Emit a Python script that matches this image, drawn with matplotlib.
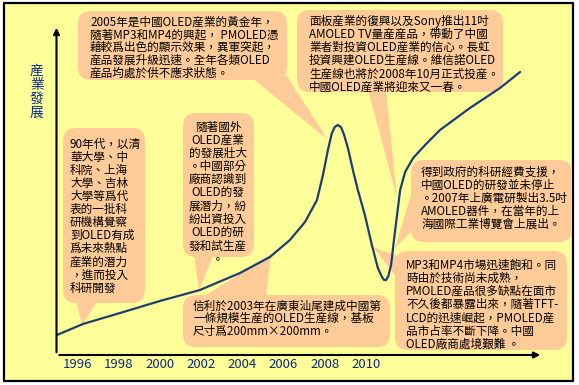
import matplotlib
matplotlib.use('Agg')
from matplotlib import pyplot as plt
from matplotlib.patches import FancyBboxPatch, Polygon, Rectangle

plt.rcParams['font.family'] = ['Noto Sans CJK TC', 'DejaVu Sans']

# industry development curve (arbitrary units)
years = [1995.02, 1996.28, 1998.08, 2000.01, 2001.95, 2003.89, 2005.34, 2006.31,
         2007.04, 2007.62, 2007.91, 2008.15, 2008.33, 2008.48, 2008.63, 2008.78,
         2008.92, 2009.12, 2009.36, 2009.6, 2009.94, 2010.28, 2010.57, 2010.77,
         2010.87, 2010.97, 2011.08, 2011.21, 2011.35, 2011.5, 2011.65, 2011.89,
         2012.28, 2012.86, 2013.58, 2015.03, 2016.49, 2017.46]
level = [20, 31, 42, 54, 65, 82, 98, 115,
         133, 155, 180, 205, 221, 228, 230, 228,
         221, 207, 185, 165, 140, 110, 87, 78,
         75, 75, 79, 90, 115, 140, 165, 183,
         197, 210, 225, 247, 267, 283]
tick_years = [1996, 1998, 2000, 2002, 2004, 2006, 2008, 2010]
ylabel = '産業發展'

notes = [
    ['2005年是中國OLED産業的黃金年，',
     '隨著MP3和MP4的興起， PMOLED憑',
     '藉較爲出色的顯示效果，異軍突起，',
     '産品發展升級迅速。全年各類OLED',
     '産品均處於供不應求狀態。'],
    ['面板産業的復興以及Sony推出11吋',
     'AMOLED TV量産産品，帶動了中國',
     '業者對投資OLED産業的信心。長虹',
     '投資興建OLED生産線。維信諾OLED',
     '生産線也將於2008年10月正式投産。',
     '中國OLED産業將迎來又一春。'],
    ['得到政府的科研經費支援，',
     '中國OLED的研發並未停止',
     '。2007年上廣電研製出3.5吋',
     'AMOLED器件，在當年的上',
     '海國際工業博覽會上展出。'],
    ['MP3和MP4市場迅速飽和。同',
     '時由於技術尚未成熟，',
     'PMOLED産品很多缺點在面市',
     '不久後都暴露出來，隨著TFT-',
     'LCD的迅速崛起，PMOLED産',
     '品市占率不斷下降。中國',
     'OLED廠商處境艱難 。'],
    ['90年代，以清', '華大學、中', '科院、上海', '大學、吉林', '大學等爲代',
     '表的一批科', '研機構覺察', '到OLED有成', '爲未來熱點', '産業的潛力',
     '，進而投入', '科研開發'],
    ['隨著國外', 'OLED産業', '的發展壯大', '。中國部分', '廠商認識到',
     'OLED的發', '展潛力，紛', '紛出資投入', 'OLED的研', '發和試生産', '。'],
    ['信利於2003年在廣東汕尾建成中國第',
     '一條規模生産的OLED生産線，基板',
     '尺寸爲200mm×200mm。'],
]

# bubble layout in pixels: box (x0, y0, x1, y1), tail triangle, text x, first line y, line step, align
bubbles = [
    ((78, 11, 287, 80), [(252, 78), (287, 76), (328, 140)], 90, 22, 12.8, 'left'),
    ((297, 10, 503, 92), [(368, 90), (386, 90), (397, 198)], 309, 21, 13.2, 'left'),
    ((411, 160, 572, 242), [(413, 188), (413, 230), (395, 248)], 421, 172, 13.0, 'left'),
    ((395, 251, 567, 350), [(397, 256), (400, 282), (373, 247)], 406, 265, 13.2, 'left'),
    ((63, 128, 145, 303), [(76, 300), (98, 300), (82, 325)], 70, 144, 13.1, 'left'),
    ((183, 113, 254, 257), [(194, 254), (214, 254), (199, 290)], 218, 127, 13.2, 'center'),
    ((183, 295, 390, 347), [(203, 297), (271, 254), (266, 297)], 193, 306, 12.5, 'left'),
]

bubble_color = '#FFCC99'
bg_color = '#FFFF99'
navy = '#1B3F73'

fig = plt.figure(figsize=(5.79, 3.85), dpi=100)
fig.patch.set_facecolor('white')

bg = fig.add_axes([0, 0, 1, 1], zorder=0)
bg.set_xlim(0, 579)
bg.set_ylim(385, 0)
bg.axis('off')
bg.add_patch(Rectangle((4, 3), 569, 378, facecolor=bg_color, edgecolor='black', lw=1.6))

for (box, tail, tx, ty, step, align), lines in zip(bubbles, notes):
    x0, y0, x1, y1 = box
    bg.add_patch(FancyBboxPatch((x0, y0), x1 - x0, y1 - y0,
                                boxstyle='round,pad=0,rounding_size=13',
                                facecolor=bubble_color, edgecolor='none'))
    bg.add_patch(Polygon(tail, closed=True, facecolor=bubble_color, edgecolor='none'))
    for i, line in enumerate(lines):
        bg.text(tx, ty + i * step, line, ha=align, va='center', fontsize=8.4, color='black')

for i, ch in enumerate(ylabel):
    bg.text(37, 71 + i * 14, ch, ha='center', va='center', fontsize=10, color='#0A2A8A')

# main axes
ax = fig.add_axes([56.5 / 579, 30 / 385, (543 - 56.5) / 579, 330 / 385], zorder=1)
ax.patch.set_alpha(0)
ax.plot(years, level, color=navy, lw=1.6, solid_capstyle='round', solid_joinstyle='round')
ax.set_xlim(1995, 1995 + (543 - 56.5) / 20.64)
ax.set_ylim(0, 330)
for s in ax.spines.values():
    s.set_visible(False)
ax.set_yticks([])
ax.set_xticks(tick_years)
ax.set_xticklabels([str(y) for y in tick_years], color='#0A2A7A', fontsize=9.5)
ax.tick_params(axis='x', length=0, pad=2)
ax.annotate('', xy=(1, 0), xytext=(0, 0), xycoords='axes fraction',
            arrowprops=dict(arrowstyle='-|>', color='black', lw=1.5, mutation_scale=9))
ax.annotate('', xy=(0, 1), xytext=(0, 0), xycoords='axes fraction',
            arrowprops=dict(arrowstyle='-|>', color='black', lw=1.5, mutation_scale=9))

plt.savefig('out.png', dpi=100, facecolor='white')
